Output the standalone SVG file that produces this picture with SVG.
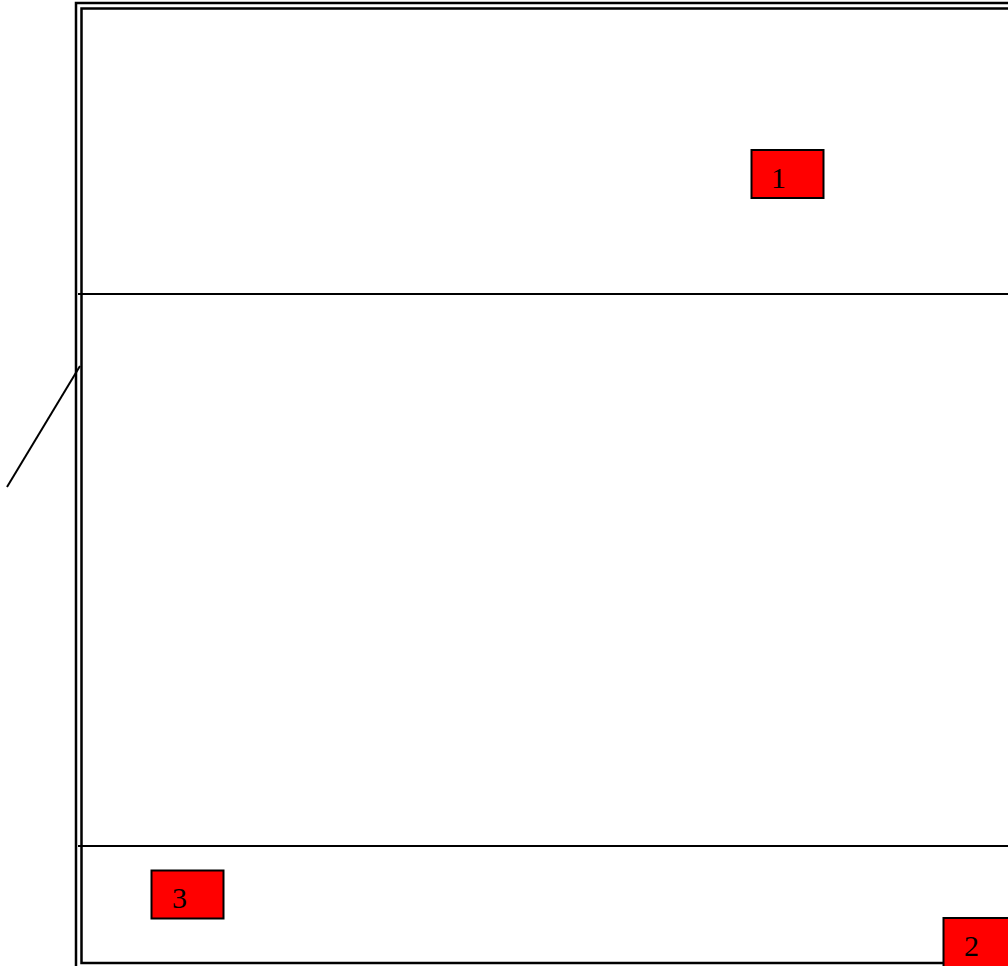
<svg xmlns="http://www.w3.org/2000/svg" width="1008" height="966" viewBox="0 0 1008 966">
<style>
.frame{fill:none;stroke:#000;stroke-width:2.5}
.ln{stroke:#000;stroke-width:2;fill:none}
.box{fill:#ff0000;stroke:#000;stroke-width:2}
.lbl{font-family:"Liberation Serif","Times New Roman",serif;font-size:30px;fill:#000}
</style>
<rect width="1008" height="966" fill="#fff"/>
<g id="frame">
<rect class="frame" x="76" y="3" width="960" height="990"/>
<rect class="frame" x="81.5" y="8.5" width="950" height="954.5"/>
</g>
<g id="connectors">
<line class="ln" x1="78" y1="294" x2="1010" y2="294"/>
<line class="ln" x1="78" y1="846" x2="1010" y2="846"/>
<line class="ln" x1="80" y1="366" x2="7" y2="487"/>
</g>
<g id="node1">
<rect class="box" x="751.5" y="150" width="72" height="48"/>
<text class="lbl" x="771" y="187.5">1</text>
</g>
<g id="node2">
<rect class="box" x="943.5" y="918" width="72" height="60"/>
<text class="lbl" x="964" y="955.5">2</text>
</g>
<g id="node3">
<rect class="box" x="151.5" y="870.5" width="72" height="48"/>
<text class="lbl" x="172" y="907.5">3</text>
</g>
</svg>
